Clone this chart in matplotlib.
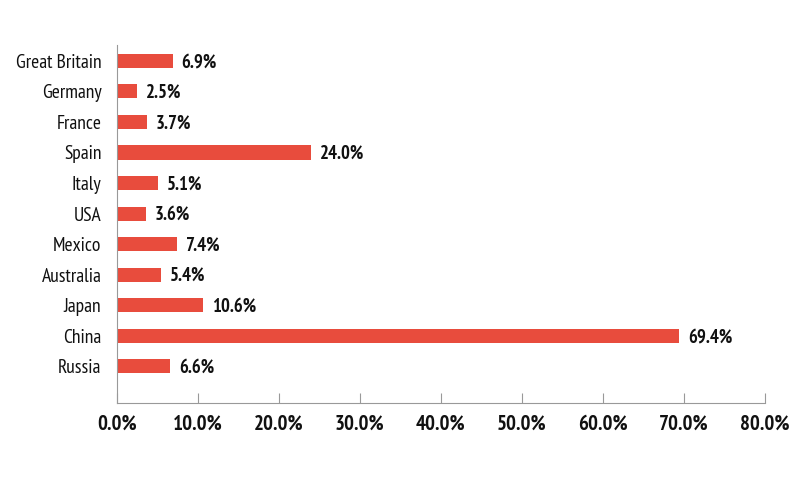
import matplotlib
matplotlib.use("Agg")
import matplotlib.pyplot as plt
from matplotlib.ticker import FuncFormatter

countries = ["Russia", "China", "Japan", "Australia", "Mexico", "USA",
             "Italy", "Spain", "France", "Germany", "Great Britain"]
shares = [6.6, 69.4, 10.6, 5.4, 7.4, 3.6, 5.1, 24.0, 3.7, 2.5, 6.9]

plt.rcParams['font.family'] = ['PT Sans Narrow', 'Liberation Sans Narrow', 'DejaVu Sans']

fig = plt.figure(figsize=(8, 4.84), dpi=100)
ax = fig.add_axes([0.146, 0.167, 0.81, 0.74])

pos = list(range(len(countries)))
ax.barh(pos, shares, height=0.46, color='#e84c3d')

# value labels right of each bar
for y, v in zip(pos, shares):
    ax.text(v + 1.1, y - 0.05, f"{v:.1f}%", va='center', ha='left',
            fontsize=13.5, fontweight='bold', color='#111111')

ax.set_yticks(pos)
ax.set_yticklabels(countries, fontsize=14, color='#111111')
ax.set_xlim(0, 80)
ax.set_ylim(-1.21, 10.52)
ax.set_xticks(range(0, 81, 10))
ax.xaxis.set_major_formatter(FuncFormatter(lambda x, p: f"{x:.1f}%"))
for lab in ax.get_xticklabels():
    lab.set_fontweight('bold')
    lab.set_fontsize(15)
    lab.set_color('#111111')

ax.tick_params(axis='x', direction='in', length=7, color='#999999', pad=8)
ax.tick_params(axis='y', length=0, pad=11)
for s in ['top', 'right']:
    ax.spines[s].set_visible(False)
ax.spines['left'].set_color('#999999')
ax.spines['bottom'].set_color('#999999')

fig.savefig("out.png", dpi=100)
